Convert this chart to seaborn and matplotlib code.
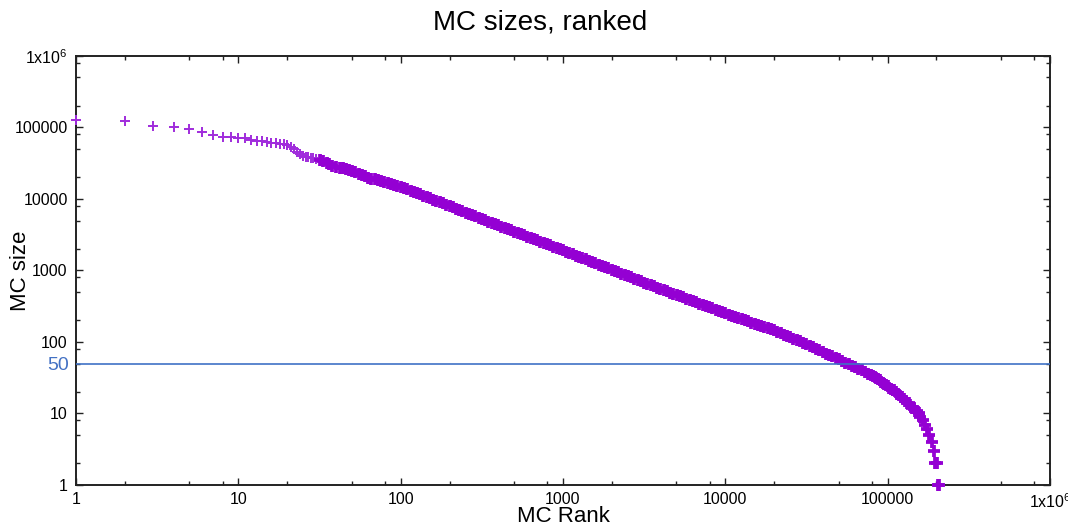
import matplotlib
matplotlib.use("Agg")
import matplotlib.pyplot as plt
import matplotlib.ticker as mticker
import matplotlib.transforms as mtransforms
import pandas as pd
import seaborn as sns

# --- ranked MC sizes -------------------------------------------------------
# largest clusters, one entry per rank
head_rank = list(range(1, 31)) + [32, 33, 35, 36, 38, 40, 42, 44, 46, 48, 50, 52, 55, 58,
                                  60, 63, 66, 69, 72, 76, 79, 83, 87, 91, 95]
head_size = [127000, 123000, 106000, 102500, 95300, 85700, 79300, 73600, 73000, 72000,
             70600, 66900, 65400, 65000, 63300, 61600, 60000, 59600, 58800, 56900,
             53300, 49200, 45400, 41900, 39900, 39000, 38300, 37400, 36900, 36300,
             34700, 33650, 31600, 30800, 28700, 27900, 27300, 26800, 26200, 25600,
             24900, 24000, 22500, 21600, 20800, 19900, 19300, 18800, 18400, 17800,
             17300, 16700, 16100, 15700, 15300]

# bulk of the distribution
body_rank = [100, 105, 110, 115, 120, 126, 132, 138, 145, 151, 158, 166, 174, 182, 191,
             200, 209, 219, 229, 240, 251, 263, 275, 288, 302,
             316, 331, 347, 363, 380, 398, 417, 437, 457, 479, 501, 525, 550, 575, 603,
             631, 661, 692, 724, 759, 794, 832, 871, 912, 955,
             1000, 1047, 1096, 1148, 1202, 1259, 1318, 1380, 1445, 1514, 1585, 1660, 1738,
             1820, 1905, 1995, 2089, 2188, 2291, 2399, 2512, 2630, 2754, 2884, 3020,
             3162, 3311, 3467, 3631, 3802, 3981, 4169, 4365, 4571, 4786, 5012, 5248, 5495,
             5754, 6026, 6310, 6607, 6918, 7244, 7586, 7943, 8318, 8710, 9120, 9550,
             10000, 10470, 10960, 11480, 12020, 12590, 13180, 13800, 14450, 15140, 15850,
             16600, 17380, 18200, 19050,
             19950, 20890, 21880, 22910, 23990, 25120, 26300, 27540, 28840, 30200,
             31620, 33110, 34670, 36310, 38020, 39810, 41690, 43650, 45710, 47860,
             50120, 52480, 54950, 57540, 60260, 63100, 66070, 69180, 72440, 75860]
body_size = [14860, 14260, 13680, 13120, 12590, 12080, 11590, 11090, 10640, 10210, 9790,
             9400, 9020, 8650, 8300, 7960, 7640, 7330, 7030, 6750, 6460, 6190, 5940, 5700, 5470,
             5250, 5040, 4840, 4650, 4470, 4290, 4110, 3950, 3790, 3650, 3500, 3360, 3230,
             3100, 2980, 2860, 2740, 2640, 2530, 2430, 2330, 2240, 2150, 2070, 1990,
             1905, 1830, 1750, 1680, 1610, 1550, 1490, 1430, 1370, 1310, 1260, 1210, 1160,
             1110, 1070, 1020, 982, 942, 904, 867, 832, 798, 766, 735, 705,
             676, 650, 625, 600, 577, 555, 533, 513, 492, 473, 455, 438, 421, 404, 388,
             373, 359, 345, 331, 318, 306, 294, 283, 272, 261,
             251, 242, 233, 225, 217, 209, 201, 194, 187, 180, 174, 167, 161, 156, 150,
             145, 138, 132, 127, 121, 116, 111, 106, 102, 97,
             93, 89, 85, 80, 77, 73, 69, 66, 63, 60,
             57, 54, 51, 49, 46, 44, 42, 40, 38, 36]

# smallest clusters
tail_rank = [79430, 81280, 83180, 85110, 87100, 89130, 91200, 93330, 95500, 97720,
             100000, 102300, 104700, 107200, 109600, 112200, 114800, 117500, 120200, 123000,
             125900, 128800, 131800, 134900, 138000, 141300, 144500, 147900, 151400,
             155000, 158500, 165000, 170000, 176000, 181000, 188000, 193000, 197000,
             201000, 204000, 208000]
tail_size = [34, 33, 32, 31, 30, 29, 28, 27, 26, 25,
             24, 23, 22, 21, 21, 20, 19, 18, 17, 17,
             16, 15, 14, 14, 13, 12, 12, 11, 11,
             10, 9, 8, 7, 6, 5, 4, 3, 2, 2, 1, 1]

threshold = 50

decades = [1, 10, 100, 1000, 10000, 100000, 1000000]
decade_labels = ["1", "10", "100", "1000", "10000", "100000", "1x10$^6$"]

df = pd.DataFrame({
    "rank": head_rank + body_rank + tail_rank,
    "size": head_size + body_size + tail_size,
})

# --- styling ----------------------------------------------------------------
sns.set_theme(style="white")
plt.rcParams["font.family"] = ["Liberation Sans", "DejaVu Sans"]
plt.rcParams["mathtext.default"] = "regular"

fig = plt.figure(figsize=(10.68, 5.27), dpi=100)
ax = fig.add_axes([0.0712, 0.0797, 0.9119, 0.8141])
ax.set_xscale("log")
ax.set_yscale("log")

purple = "#9400D3"
sparse = df[df["rank"] <= 30]
dense = df[df["rank"] > 30]
# isolated top ranks: thin crosses; crowded ranks merge into a thick band
sns.scatterplot(data=sparse, x="rank", y="size", marker="+", s=60, linewidth=1.4,
                color="#A02CDC", ax=ax, legend=False, zorder=2, clip_on=False)
sns.scatterplot(data=dense, x="rank", y="size", marker="+", s=75, linewidth=2.7,
                color=purple, ax=ax, legend=False, zorder=2, clip_on=False)

ax.axhline(threshold, color="#3F72C6", lw=1.2, zorder=3)
blend = mtransforms.blended_transform_factory(ax.transAxes, ax.transData)
ax.text(-0.007, threshold, "50", transform=blend, ha="right", va="center_baseline",
        color="#4472C4", fontsize=14)

ax.set_xlim(1, 1e6)
ax.set_ylim(1, 1e6)

for axis in (ax.xaxis, ax.yaxis):
    axis.set_major_locator(mticker.FixedLocator(decades))
    axis.set_major_formatter(mticker.FixedFormatter(decade_labels))
    axis.set_minor_locator(mticker.LogLocator(base=10, subs=(2, 5, 8)))
    axis.set_minor_formatter(mticker.NullFormatter())

ax.tick_params(which="both", direction="in", top=True, right=True, bottom=True,
               left=True, color="#222222", labelsize=11.5, labelcolor="black")
ax.tick_params(which="major", length=5, width=1.0)
ax.tick_params(which="minor", length=3, width=1.0)
ax.tick_params(axis="y", pad=6)
ax.tick_params(axis="x", pad=5)

for sp in ax.spines.values():
    sp.set_visible(True)
    sp.set_color("#222222")
    sp.set_linewidth(1.4)
    sp.set_zorder(1)

ax.set_xlabel("MC Rank", fontsize=16, color="black")
ax.set_ylabel("MC size", fontsize=16, color="black")
ax.xaxis.set_label_coords(0.5, -0.05)
ax.yaxis.set_label_coords(-0.046, 0.5)

fig.text(0.5056, 0.958, "MC sizes, ranked", ha="center", va="center",
         fontsize=20, color="black")

fig.savefig("out.png", dpi=100)
